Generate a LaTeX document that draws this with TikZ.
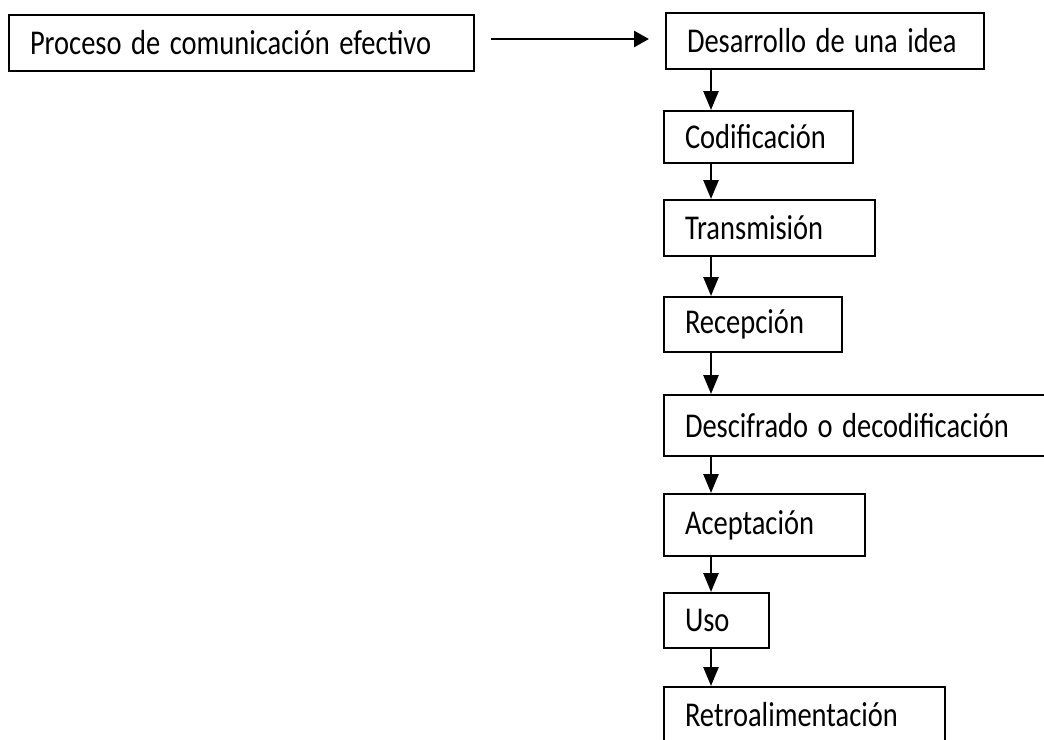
\documentclass[tikz,border=0pt]{standalone}
\usepackage{fontspec}
\usepackage{graphicx}
\setmainfont{Carlito}
\usetikzlibrary{arrows.meta}
\newcommand{\tallt}[1]{\scalebox{1}[1.22]{#1}}
\begin{document}
\begin{tikzpicture}[x=1pt,y=-1pt,
  box/.style={draw, line width=2pt, anchor=north west, inner xsep=21pt, inner ysep=0pt,
    align=left, font=\fontsize{28.5}{34}\selectfont},
  varr/.style={line width=2.6pt, -{Triangle[length=19pt,width=15pt]}},
  harr/.style={line width=2.8pt, -{Triangle[length=15pt,width=16pt]}}]
\useasboundingbox (0,0) rectangle (1044,739);
\clip (0,0) rectangle (1044,739);
\node[box, text width=423pt, minimum height=56pt] (p) at (8,14) {\tallt{Proceso de comunicación efectivo}};
\node[box, text width=276pt, minimum height=56pt] (d) at (665,12) {\tallt{Desarrollo de una idea}};
\node[box, text width=147pt, minimum height=52pt] (c) at (663,110) {\tallt{Codificación}};
\node[box, text width=169pt, minimum height=56pt] (t) at (663,199) {\tallt{Transmisión}};
\node[box, text width=136pt, minimum height=55pt] (r) at (663,296) {\tallt{Recepción}};
\node[box, text width=360pt, minimum height=61pt] (de) at (663,394) {\tallt{Descifrado o decodificación}};
\node[box, text width=159pt, minimum height=62pt] (a) at (663,493) {\tallt{Aceptación}};
\node[box, text width=63pt, minimum height=55pt] (u) at (663,592) {\tallt{Uso}};
\node[box, text width=239pt, minimum height=55pt] (re) at (663,686) {\tallt{Retroalimentación}};
\coordinate (ax) at (711,0);
\coordinate (ay) at (0,39);
\draw[harr, shorten <=16pt, shorten >=16pt] (p.east |- ay) -- (d.west |- ay);
\draw[varr] (d.south -| ax) -- (c.north -| ax);
\draw[varr] (c.south -| ax) -- (t.north -| ax);
\draw[varr] (t.south -| ax) -- (r.north -| ax);
\draw[varr] (r.south -| ax) -- (de.north -| ax);
\draw[varr] (de.south -| ax) -- (a.north -| ax);
\draw[varr] (a.south -| ax) -- (u.north -| ax);
\draw[varr] (u.south -| ax) -- (re.north -| ax);
\end{tikzpicture}
\end{document}
